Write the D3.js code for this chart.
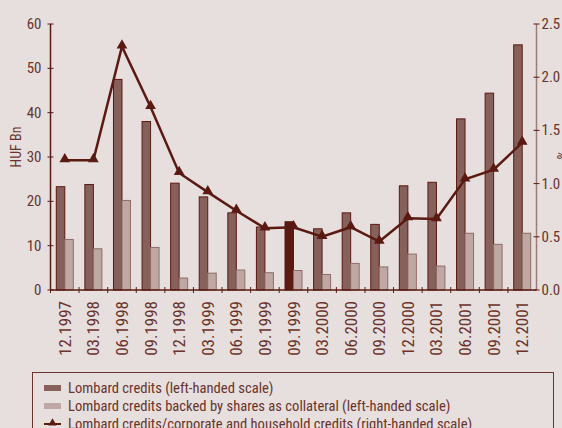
<!DOCTYPE html>
<html>
<head>
<meta charset="utf-8">
<script src="https://cdn.jsdelivr.net/npm/d3@7"></script>
<style>
  html, body { margin: 0; padding: 0; background: #e6dfde; overflow: hidden; }
  text { font-family: "Liberation Sans Narrow", "Arial Narrow", "Roboto Condensed", sans-serif; fill: #6a332b; }
</style>
</head>
<body>
<div id="chart"></div>
<script>
// categories and series
var categories = ["12.1997", "03.1998", "06.1998", "09.1998", "12.1998", "03.1999", "06.1999", "09.1999",
    "09.1999 ", "03.2000", "06.2000", "09.2000", "12.2000", "03.2001", "06.2001", "09.2001", "12.2001"];
var lombard = [23.3, 23.8, 47.5, 38.0, 24.1, 21.0, 17.4, 14.2, 15.4, 13.8, 17.4, 14.8, 23.5, 24.3, 38.6, 44.4, 55.3];
var lombardShares = [11.4, 9.3, 20.2, 9.6, 2.7, 3.8, 4.5, 3.9, 4.4, 3.5, 6.0, 5.2, 8.1, 5.4, 12.8, 10.3, 12.8];
var ratio = [1.22, 1.22, 2.29, 1.72, 1.10, 0.92, 0.745, 0.58, 0.59, 0.50, 0.59, 0.455, 0.675, 0.667, 1.04, 1.13, 1.385];
var leftTicks = [0, 10, 20, 30, 40, 50, 60];
var rightTicks = [0, 0.5, 1.0, 1.5, 2.0, 2.5];
var highlight = 8; // the darker bar
var legendLabels = [
    "Lombard credits (left-handed scale)",
    "Lombard credits backed by shares as collateral (left-handed scale)",
    "Lombard credits/corporate and household credits (right-handed scale)"
];

(function() {

    var w = 562, h = 428;
    var plotLeft = 50.5, plotRight = 536.5, plotTop = 24, plotBottom = 290;
    var dark = "#5a1a12";

    var svg = d3.select("#chart").append("svg")
        .attr("width", w)
        .attr("height", h);

    svg.append("rect").attr("width", w).attr("height", h).attr("fill", "#e6dfde");

    var x = d3.scaleBand().domain(categories).range([plotLeft, plotRight]);
    var yL = d3.scaleLinear().domain([0, 60]).range([plotBottom, plotTop]);
    var yR = d3.scaleLinear().domain([0, 2.5]).range([plotBottom, plotTop]);

    var barW = 8.5;
    var off = (x.bandwidth() - 2 * barW) / 2;

    // dark bars
    svg.selectAll("rect.lomb")
        .data(lombard)
        .enter()
        .append("rect")
        .attr("class", "lomb")
        .attr("x", function(d, i) { return x(categories[i]) + off; })
        .attr("y", function(d) { return yL(d); })
        .attr("width", barW)
        .attr("height", function(d) { return plotBottom - yL(d); })
        .attr("fill", function(d, i) { return i === highlight ? dark : "#86605a"; })
        .attr("stroke", dark)
        .attr("stroke-width", 1);

    // light bars
    svg.selectAll("rect.shares")
        .data(lombardShares)
        .enter()
        .append("rect")
        .attr("class", "shares")
        .attr("x", function(d, i) { return x(categories[i]) + off + barW; })
        .attr("y", function(d) { return yL(d); })
        .attr("width", barW)
        .attr("height", function(d) { return plotBottom - yL(d); })
        .attr("fill", "#bfa8a4")
        .attr("stroke", "#8f6d68")
        .attr("stroke-width", 1);

    // left axis
    var axL = svg.append("g").attr("transform", "translate(" + plotLeft + ",0)");
    axL.append("line").attr("y1", plotTop).attr("y2", plotBottom).attr("stroke", dark).attr("stroke-width", 1.5);
    axL.selectAll("line.t").data(leftTicks).enter().append("line")
        .attr("class", "t")
        .attr("x1", -3).attr("x2", 3)
        .attr("y1", function(d) { return yL(d); }).attr("y2", function(d) { return yL(d); })
        .attr("stroke", dark);
    axL.selectAll("text").data(leftTicks).enter().append("text")
        .attr("x", -9).attr("y", function(d) { return yL(d) + 5; })
        .attr("text-anchor", "end").attr("font-size", 15)
        .text(function(d) { return d; });

    svg.append("text")
        .attr("transform", "translate(21,147) rotate(-90)")
        .attr("text-anchor", "middle").attr("font-size", 14)
        .text("HUF Bn");

    // right axis
    var axR = svg.append("g").attr("transform", "translate(" + plotRight + ",0)");
    axR.append("line").attr("y1", plotTop).attr("y2", plotBottom).attr("stroke", "#9b7b76").attr("stroke-width", 1.5);
    axR.selectAll("line.t").data(rightTicks).enter().append("line")
        .attr("class", "t")
        .attr("x1", -3).attr("x2", 3)
        .attr("y1", function(d) { return yR(d); }).attr("y2", function(d) { return yR(d); })
        .attr("stroke", dark);
    axR.selectAll("text").data(rightTicks).enter().append("text")
        .attr("x", 5).attr("y", function(d) { return yR(d) + 5; })
        .attr("font-size", 15)
        .text(function(d) { return d3.format(".1f")(d); });

    svg.append("text")
        .attr("transform", "translate(557,155) rotate(90)")
        .attr("text-anchor", "middle").attr("font-size", 14)
        .text("%");

    // x axis
    svg.append("line").attr("x1", plotLeft).attr("x2", plotRight).attr("y1", plotBottom).attr("y2", plotBottom)
        .attr("stroke", dark).attr("stroke-width", 1.5);
    svg.selectAll("line.xt").data(categories).enter().append("line")
        .attr("class", "xt")
        .attr("x1", function(d) { return x(d); }).attr("x2", function(d) { return x(d); })
        .attr("y1", plotBottom - 3).attr("y2", plotBottom + 3)
        .attr("stroke", dark);
    svg.selectAll("text.xl").data(categories).enter().append("text")
        .attr("class", "xl")
        .attr("transform", function(d) {
            return "translate(" + (x(d) + x.bandwidth() / 2 + 6) + "," + (plotBottom + 11) + ") rotate(-90)";
        })
        .attr("text-anchor", "end").attr("font-size", 17)
        .text(function(d) { return d.trim(); });

    // ratio line
    var cx = function(d, i) { return x(categories[i]) + x.bandwidth() / 2; };
    var line = d3.line()
        .x(cx)
        .y(function(d) { return yR(d); });
    svg.append("path").datum(ratio)
        .attr("d", line)
        .attr("fill", "none").attr("stroke", dark).attr("stroke-width", 2.5);

    var tri = d3.symbol().type(d3.symbolTriangle).size(50);
    svg.selectAll("path.mk").data(ratio).enter().append("path")
        .attr("class", "mk")
        .attr("d", tri)
        .attr("transform", function(d, i) { return "translate(" + cx(d, i) + "," + (yR(d) - 1) + ")"; })
        .attr("fill", dark);

    // legend
    var lg = svg.append("g");
    lg.append("rect").attr("x", 32.5).attr("y", 372.5).attr("width", 521).attr("height", 80)
        .attr("fill", "none").attr("stroke", "#6a332b").attr("stroke-width", 1);
    var ly = [388, 406, 424];
    lg.append("rect").attr("x", 44).attr("y", ly[0] - 3).attr("width", 17).attr("height", 6).attr("fill", "#86605a");
    lg.append("rect").attr("x", 44).attr("y", ly[1] - 3).attr("width", 17).attr("height", 6).attr("fill", "#bfa8a4");
    lg.append("line").attr("x1", 44).attr("x2", 61).attr("y1", ly[2]).attr("y2", ly[2]).attr("stroke", dark).attr("stroke-width", 2);
    lg.append("path").attr("d", d3.symbol().type(d3.symbolTriangle).size(30))
        .attr("transform", "translate(52.5," + (ly[2] - 1) + ")").attr("fill", dark);
    lg.selectAll("text").data(legendLabels).enter().append("text")
        .attr("x", 68).attr("y", function(d, i) { return ly[i] + 5; })
        .attr("font-size", 14.6)
        .text(function(d) { return d; });

})();
</script>
</body>
</html>
